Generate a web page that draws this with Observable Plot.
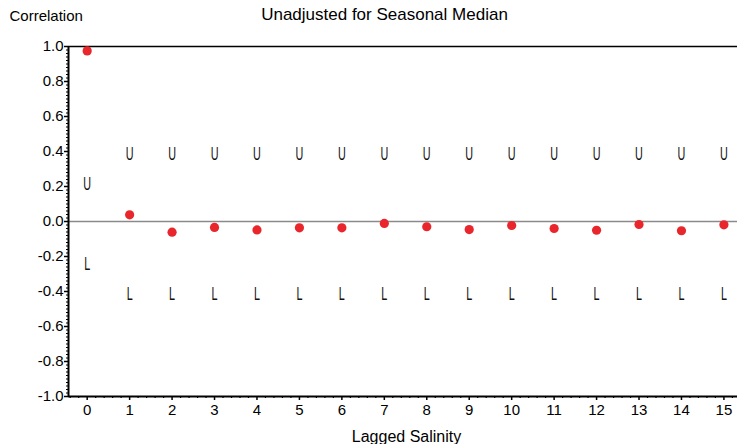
<!DOCTYPE html>
<html>
<head>
<meta charset="utf-8">
<script src="https://cdn.jsdelivr.net/npm/d3@7"></script>
<script src="https://cdn.jsdelivr.net/npm/@observablehq/plot@0.6"></script>
<style>
  html, body { margin: 0; padding: 0; background: #fff; }
</style>
</head>
<body>
<div id="chart"></div>
<script>
// ---- data ----
const lags = [0, 1, 2, 3, 4, 5, 6, 7, 8, 9, 10, 11, 12, 13, 14, 15];
const correlation = [0.975, 0.038, -0.061, -0.034, -0.048, -0.036, -0.036, -0.011,
                     -0.030, -0.046, -0.023, -0.040, -0.050, -0.017, -0.053, -0.019];
const upperBound = [0.215, 0.385, 0.385, 0.385, 0.385, 0.385, 0.385, 0.385,
                    0.385, 0.385, 0.385, 0.385, 0.385, 0.385, 0.385, 0.385];
const lowerBound = [-0.245, -0.413, -0.413, -0.413, -0.413, -0.413, -0.413, -0.413,
                    -0.413, -0.413, -0.413, -0.413, -0.413, -0.413, -0.413, -0.413];
const yTicks = [-1.0, -0.8, -0.6, -0.4, -0.2, 0.0, 0.2, 0.4, 0.6, 0.8, 1.0];
const xTicks = lags;
const titleText = "Unadjusted for Seasonal Median";
const yLabel = "Correlation";
const xLabel = "Lagged Salinity";

// ---- derived tables ----
const points = lags.map((l, i) => ({lag: l, r: correlation[i]}));
const uppers = lags.map((l, i) => ({lag: l, v: upperBound[i]}));
const lowers = lags.map((l, i) => ({lag: l, v: lowerBound[i]}));
const yMinor = d3.range(-50, 51).map(k => k / 50).filter(v => Math.abs(v * 5 - Math.round(v * 5)) > 1e-6);
const xMinor = d3.range(-2, 77).map(k => k / 5).filter(v => Math.abs(v - Math.round(v)) > 1e-6);

const xDomain = [-0.44, 15.32];

const chart = Plot.plot({
  width: 737,
  height: 444,
  marginTop: 46,
  marginBottom: 48,
  marginLeft: 68,
  marginRight: 0,
  x: {domain: xDomain},
  y: {domain: [-1, 1]},
  style: {fontFamily: '"Liberation Sans", Arial, sans-serif', fontSize: "15px", color: "#000", background: "#fff", overflow: "visible"},
  marks: [
    Plot.ruleY([0], {stroke: "#8a8a8a", strokeWidth: 1.5}),
    Plot.ruleY([1], {stroke: "#000", strokeWidth: 1.5}),
    Plot.axisY({ticks: yMinor, tickSize: 2, tickFormat: () => "", label: null, strokeWidth: 1.2}),
    Plot.axisY({ticks: yTicks, tickSize: 4, tickPadding: 1, tickFormat: d => d.toFixed(1), label: null, strokeWidth: 1.5, fontSize: 15}),
    Plot.axisX({ticks: xMinor, tickSize: 2, tickFormat: () => "", label: null, strokeWidth: 1.2}),
    Plot.axisX({ticks: xTicks, tickSize: 4, tickPadding: 4, tickFormat: d => String(d), label: null, strokeWidth: 1.5, fontSize: 15}),
    Plot.ruleX([xDomain[0]], {stroke: "#000", strokeWidth: 2}),
    Plot.ruleY([-1], {stroke: "#000", strokeWidth: 2}),
    Plot.text(uppers, {x: "lag", y: "v", text: () => "U", fontSize: 18, fill: "#111"}),
    Plot.text(lowers, {x: "lag", y: "v", text: () => "L", fontSize: 18, fill: "#111"}),
    Plot.dot(points, {x: "lag", y: "r", r: 4.6, fill: "#e8262b", stroke: "none"}),
    Plot.text([titleText], {frameAnchor: "top-left", dx: 316, dy: -32, fontSize: 17, textAnchor: "middle", lineAnchor: "middle"}),
    Plot.text([yLabel], {frameAnchor: "top-left", dx: -59, dy: -30, fontSize: 15, textAnchor: "start", lineAnchor: "middle"}),
    Plot.text([xLabel], {frameAnchor: "bottom-left", dx: 338, dy: 40, fontSize: 16, textAnchor: "middle", lineAnchor: "middle"})
  ]
});

// make U / L glyphs narrow like the reference's thin condensed markers
d3.select(chart).selectAll("text").each(function() {
  const t = this.textContent;
  if (t === "U" || t === "L") {
    const tr = this.getAttribute("transform") || "";
    this.setAttribute("transform", tr + " scale(0.6,1)");
  }
});

document.getElementById("chart").appendChild(chart);
</script>
</body>
</html>
